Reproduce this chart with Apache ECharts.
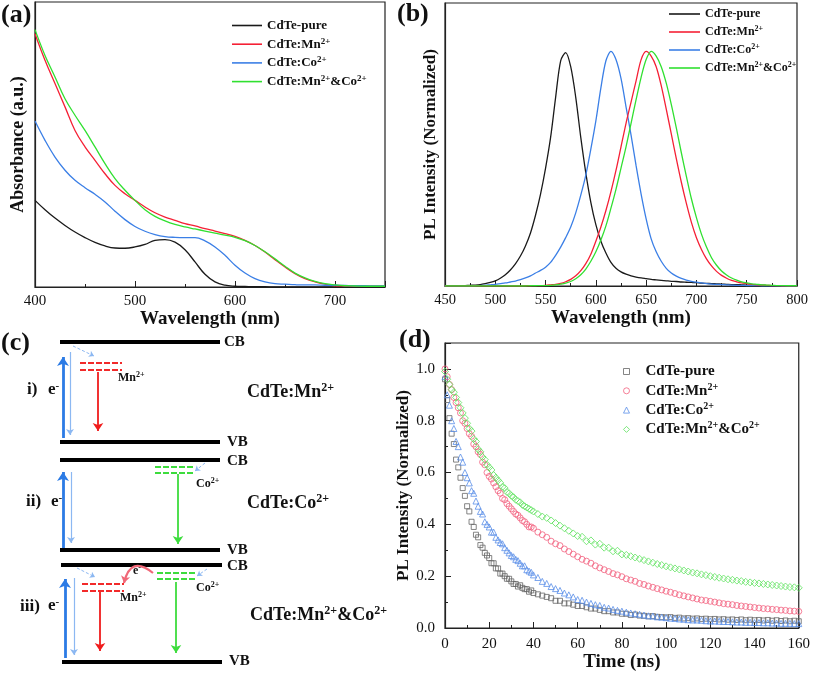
<!DOCTYPE html>
<html><head><meta charset="utf-8">
<script src="https://cdn.jsdelivr.net/npm/echarts@6/dist/echarts.min.js"></script>
<style>html,body{margin:0;padding:0;background:#fff}#c{width:813px;height:675px}</style>
</head><body><div id="c"></div>
<script>
// ---------- Panel (a): absorbance ----------
const absWl = [400,410,420,430,440,450,460,470,480,490,500,510,520,530,540,550,560,570,580,590,600,610,620,630,640,650,660,670,680,690,700,710,720,730,740,750];
const absPure = [0.342,0.305,0.272,0.243,0.217,0.195,0.176,0.162,0.154,0.153,0.158,0.168,0.184,0.187,0.177,0.147,0.099,0.050,0.020,0.007,0.003,0.002,0.001,0.001,0,0,0,0,0,0,0,0,0,0,0,0];
const absMn = [1.0,0.895,0.803,0.711,0.618,0.553,0.5,0.447,0.401,0.368,0.342,0.316,0.293,0.276,0.263,0.25,0.241,0.23,0.221,0.211,0.2,0.184,0.164,0.138,0.108,0.079,0.053,0.033,0.02,0.011,0.005,0.004,0.003,0.003,0.003,0.003];
const absCo = [0.655,0.579,0.513,0.461,0.421,0.392,0.366,0.336,0.299,0.266,0.239,0.22,0.207,0.199,0.196,0.195,0.195,0.182,0.158,0.125,0.086,0.055,0.033,0.02,0.013,0.011,0.009,0.008,0.008,0.007,0.007,0.006,0.005,0.005,0.004,0.004];
const absMnCo = [1.016,0.914,0.829,0.743,0.678,0.618,0.553,0.487,0.428,0.382,0.342,0.305,0.279,0.261,0.247,0.237,0.229,0.221,0.213,0.205,0.196,0.183,0.164,0.139,0.111,0.082,0.055,0.036,0.022,0.013,0.008,0.005,0.004,0.003,0.003,0.003];
const absTicks = [400,500,600,700];

// ---------- Panel (b): PL spectra ----------
const plWl = [450,455,460,465,470,475,480,485,490,495,500,505,510,515,520,525,530,535,540,545,550,555,560,565,570,575,580,585,590,595,600,605,610,615,620,625,630,635,640,645,650,655,660,665,670,675,680,685,690,695,700,705,710,715,720,725,730,735,740,745,750,755,760,765,770,775,780,785,790,795,800];
const plPure = [0,0,0,0.001,0.002,0.003,0.004,0.006,0.01,0.015,0.022,0.033,0.048,0.068,0.094,0.127,0.17,0.225,0.30,0.39,0.50,0.63,0.80,0.955,0.99,0.93,0.80,0.63,0.48,0.355,0.26,0.19,0.14,0.10,0.075,0.06,0.05,0.043,0.038,0.034,0.031,0.028,0.026,0.024,0.022,0.02,0.019,0.017,0.016,0.015,0.014,0.012,0.011,0.01,0.009,0.008,0.007,0.006,0.006,0.005,0.004,0.004,0.003,0.003,0.002,0.002,0.002,0.001,0.001,0.001,0.001];
const plCo = [0,0,0,0,0,0,0.001,0.002,0.003,0.005,0.007,0.01,0.013,0.017,0.021,0.027,0.034,0.043,0.055,0.066,0.08,0.10,0.13,0.165,0.205,0.25,0.31,0.385,0.47,0.58,0.70,0.84,0.955,0.995,0.96,0.88,0.76,0.64,0.51,0.39,0.285,0.20,0.145,0.105,0.075,0.055,0.042,0.032,0.025,0.02,0.016,0.013,0.01,0.008,0.007,0.006,0.005,0.004,0.003,0.003,0.002,0.002,0.002,0.001,0.001,0.001,0.001,0,0,0,0];
const plMn = [0,0,0,0,0,0,0,0,0,0,0,0,0,0,0,0,0.001,0.001,0.002,0.002,0.003,0.005,0.007,0.011,0.018,0.028,0.043,0.065,0.095,0.135,0.19,0.25,0.32,0.40,0.49,0.59,0.69,0.78,0.87,0.96,0.995,0.975,0.93,0.85,0.75,0.645,0.54,0.44,0.35,0.27,0.205,0.155,0.115,0.085,0.062,0.045,0.033,0.024,0.018,0.013,0.01,0.007,0.005,0.004,0.003,0.002,0.002,0.001,0.001,0.001,0.001];
const plMnCo = [0,0,0,0,0,0,0,0,0,0,0,0,0,0,0,0,0,0.001,0.001,0.002,0.002,0.003,0.005,0.008,0.012,0.019,0.031,0.048,0.072,0.105,0.145,0.195,0.255,0.33,0.41,0.50,0.59,0.69,0.79,0.885,0.96,0.995,0.975,0.93,0.86,0.77,0.67,0.565,0.465,0.37,0.29,0.22,0.165,0.12,0.088,0.064,0.047,0.034,0.025,0.018,0.013,0.009,0.007,0.005,0.004,0.003,0.002,0.002,0.001,0.001,0.001];

// ---------- Panel (d): PL decay ----------
const decayT = [0,1,2,3,4,5,6,7,8,9,10,11,12,13,14,15,16,17,18,19,20,21,22,23,24,25,26,27,28,29,30,31,32,33,34,35,36,37,38,39,40,42,44,46,48,50,52,54,56,58,60,62,64,66,68,70,72,74,76,78,80,82,84,86,88,90,92,94,96,98,100,102,104,106,108,110,112,114,116,118,120,122,124,126,128,130,132,134,136,138,140,142,144,146,148,150,152,154,156,158,160];
const decayPure = [0.96,0.88,0.81,0.75,0.71,0.65,0.62,0.58,0.54,0.51,0.47,0.45,0.41,0.39,0.36,0.35,0.32,0.31,0.29,0.28,0.27,0.25,0.25,0.23,0.23,0.21,0.21,0.20,0.19,0.19,0.18,0.17,0.17,0.16,0.165,0.155,0.15,0.15,0.14,0.145,0.135,0.13,0.125,0.12,0.115,0.105,0.105,0.095,0.095,0.09,0.085,0.085,0.08,0.075,0.075,0.07,0.065,0.065,0.06,0.06,0.055,0.055,0.05,0.052,0.048,0.047,0.045,0.046,0.043,0.042,0.041,0.042,0.039,0.04,0.037,0.038,0.036,0.037,0.035,0.036,0.034,0.035,0.033,0.034,0.032,0.033,0.031,0.033,0.030,0.032,0.030,0.031,0.029,0.031,0.028,0.030,0.027,0.029,0.026,0.028,0.026];
const decayMn = [1.0,0.97,0.94,0.92,0.89,0.87,0.85,0.83,0.80,0.79,0.77,0.75,0.74,0.71,0.70,0.68,0.67,0.64,0.63,0.60,0.585,0.575,0.56,0.545,0.53,0.52,0.50,0.495,0.48,0.47,0.46,0.45,0.44,0.435,0.425,0.415,0.41,0.40,0.39,0.39,0.385,0.37,0.36,0.35,0.335,0.325,0.318,0.305,0.295,0.285,0.275,0.265,0.258,0.25,0.24,0.232,0.225,0.218,0.21,0.205,0.198,0.19,0.185,0.18,0.172,0.168,0.162,0.157,0.152,0.147,0.142,0.138,0.133,0.128,0.124,0.12,0.116,0.112,0.108,0.106,0.103,0.10,0.097,0.094,0.092,0.09,0.087,0.085,0.083,0.081,0.079,0.077,0.075,0.074,0.072,0.071,0.069,0.068,0.066,0.065,0.064];
const decayCo = [0.97,0.90,0.86,0.80,0.77,0.72,0.70,0.66,0.64,0.60,0.58,0.56,0.53,0.52,0.49,0.47,0.45,0.44,0.41,0.40,0.39,0.37,0.37,0.35,0.34,0.33,0.325,0.31,0.30,0.29,0.28,0.275,0.265,0.26,0.25,0.24,0.24,0.225,0.22,0.215,0.205,0.195,0.18,0.172,0.16,0.152,0.145,0.135,0.128,0.12,0.11,0.107,0.10,0.095,0.09,0.087,0.08,0.077,0.072,0.068,0.065,0.061,0.058,0.055,0.053,0.05,0.047,0.046,0.043,0.042,0.04,0.038,0.037,0.035,0.034,0.032,0.031,0.031,0.03,0.028,0.027,0.027,0.026,0.025,0.025,0.024,0.023,0.023,0.022,0.022,0.021,0.021,0.02,0.02,0.019,0.019,0.018,0.018,0.018,0.017,0.017];
const decayMnCo = [0.99,0.96,0.94,0.92,0.91,0.89,0.87,0.85,0.83,0.81,0.79,0.77,0.76,0.73,0.72,0.69,0.68,0.66,0.65,0.63,0.62,0.61,0.59,0.58,0.57,0.56,0.545,0.54,0.525,0.52,0.51,0.505,0.495,0.49,0.485,0.475,0.47,0.465,0.46,0.455,0.45,0.44,0.43,0.425,0.415,0.405,0.395,0.385,0.375,0.365,0.355,0.352,0.335,0.338,0.322,0.325,0.31,0.31,0.296,0.298,0.284,0.282,0.277,0.272,0.267,0.262,0.257,0.252,0.247,0.243,0.238,0.234,0.23,0.226,0.222,0.218,0.214,0.211,0.207,0.204,0.20,0.197,0.194,0.191,0.188,0.186,0.183,0.181,0.178,0.176,0.174,0.172,0.17,0.168,0.166,0.164,0.162,0.16,0.158,0.157,0.155];

// ---------- Panel (c): energy-level schematic (diagram geometry) ----------
const levelLines = [[[60,342],[220,342]],[[60,442],[220,442]],[[60,460],[220,460]],[[60,550],[220,550]],[[61,565],[222,565]],[[62,662],[222,662]]];
const blueUp = [[[63,438],[63,357]],[[63,548],[63,472]],[[65,658],[65,579]]];
const blueDown = [[[70,352],[70,435]],[[71,472],[71,543]],[[74,578],[74,655]]];
const redDown = [[[98,372],[98,431]],[[100,592],[100,651]]];
const greenDown = [[[178,474],[178,544]],[[176,582],[176,653]]];
const dashArrows = [[[73,346],[94,356]],[[205,463],[195,471]],[[77,568],[95,577]],[[207,569],[197,576]]];
const redDash = [[[80,363],[122,363]],[[80,370],[122,370]],[[82,584],[124,584]],[[82,591],[124,591]]];
const greenDash = [[[155,467],[195,467]],[[155,473],[195,473]],[[157,573],[197,573]],[[157,579],[197,579]]];
const curveArrow = [[[153,573],[124,583]]];

const FONT = '"Liberation Serif","Times New Roman",serif';
const C = {pure:'#1a1a1a', mn:'#f52035', co:'#3b7fe6', mnco:'#30e030'};
const CD = {pure:'#666666', mn:'#f2607e', co:'#5a8ee8', mnco:'#5de25d'};
const labelRich = {
  pure:'{b|CdTe-pure}', mn:'{b|CdTe:Mn}{s|2+}', co:'{b|CdTe:Co}{s|2+}', mnco:'{b|CdTe:Mn}{s|2+}{b|&Co}{s|2+}',
  dpure:'{b|CdTe-pure}', dmn:'{b|CdTe:Mn}{s|2+}', dco:'{b|CdTe:Co}{s|2+}', dmnco:'{b|CdTe:Mn}{s|2+}{b|&Co}{s|2+}'
};
function rich(size,pad){
  return {
    b:{fontFamily:FONT,fontWeight:'bold',fontSize:size,lineHeight:size+2,color:'#111'},
    s:{fontFamily:FONT,fontWeight:'bold',fontSize:Math.round(size*0.66),lineHeight:Math.round(size*0.6),verticalAlign:'top',color:'#111'},
    p:{width:pad||0}
  };
}
function richG(size){
  return {
    b:{fontFamily:FONT,fontWeight:'bold',fontSize:size,lineHeight:size+2,fill:'#111'},
    s:{fontFamily:FONT,fontWeight:'bold',fontSize:Math.round(size*0.64),lineHeight:Math.round(size*0.6),verticalAlign:'top',fill:'#111'}
  };
}
function gtext(x,y,str,size){
  return {type:'text',x:x,y:y,silent:true,z:100,style:{text:str,fill:'#111',font:'bold '+size+'px '+FONT,fontFamily:FONT,fontWeight:'bold',fontSize:size,align:'left',verticalAlign:'middle',textAlign:'left',textVerticalAlign:'middle',rich:richG(size)}};
}
function pairs(xs,ys){return xs.map((x,i)=>[x,ys[i]]);}

const axisLineStyle = {show:true,lineStyle:{color:'#222',width:1.2}};
const tickLabel = (size,margin,fmt)=>({fontFamily:FONT,fontSize:size,color:'#111',margin:margin,formatter:fmt});
const nameStyle = (size)=>({fontFamily:FONT,fontWeight:'bold',fontSize:size,color:'#111'});

function lineSeries(name,xi,xs,ys,color,smooth){
  return {name:name,type:'line',xAxisIndex:xi,yAxisIndex:xi,data:pairs(xs,ys),symbol:'none',showSymbol:false,smooth:smooth,lineStyle:{color:color,width:1.3},itemStyle:{color:color},z:3};
}
function scatterSeries(name,ys,color,symbol,size){
  return {name:name,type:'scatter',xAxisIndex:2,yAxisIndex:2,data:pairs(decayT,ys),symbol:symbol,symbolSize:size,itemStyle:{color:'rgba(0,0,0,0)',borderColor:color,borderWidth:1}};
}
function linesSeries(coordsList,color,width,opts){
  opts = opts||{};
  return {type:'lines',coordinateSystem:'cartesian2d',xAxisIndex:3,yAxisIndex:3,polyline:false,silent:true,
    symbol:opts.arrow?['none','arrow']:'none',symbolSize:opts.size||8,
    lineStyle:{color:color,width:width,opacity:1,type:opts.type||'solid',curveness:opts.curveness||0},
    data:coordsList.map(c=>({coords:c})),z:5};
}
function lineLegendData(){
  return ['pure','mn','co','mnco'].map(n=>({name:n,icon:'rect',itemStyle:{color:C[n]}}));
}

const chart = echarts.init(document.getElementById('c'),null,{renderer:'canvas'});
chart.setOption({
  animation:false,
  backgroundColor:'#fff',
  grid:[
    {left:35,top:2,width:350,height:285,show:true,borderColor:'#222',borderWidth:1.2,backgroundColor:'transparent'},
    {left:445,top:3,width:352,height:283,show:true,borderColor:'#222',borderWidth:1.2,backgroundColor:'transparent'},
    {left:445,top:343,width:354,height:285,show:true,borderColor:'#222',borderWidth:1.2,backgroundColor:'transparent'},
    {left:0,top:320,width:300,height:355,show:false}
  ],
  xAxis:[
    {gridIndex:0,type:'value',min:400,max:750,interval:100,axisLine:axisLineStyle,
      axisTick:{inside:true,length:6,lineStyle:{color:'#222'}},minorTick:{show:true,splitNumber:2,length:3,lineStyle:{color:'#222'}},
      splitLine:{show:false},axisLabel:tickLabel(15,7,v=>absTicks.indexOf(v)>=0?String(v):''),
      name:'Wavelength (nm)',nameLocation:'middle',nameGap:19,nameTextStyle:nameStyle(19)},
    {gridIndex:1,type:'value',min:450,max:800,interval:50,axisLine:axisLineStyle,
      axisTick:{inside:true,length:6,lineStyle:{color:'#222'}},minorTick:{show:true,splitNumber:2,length:3,lineStyle:{color:'#222'}},
      splitLine:{show:false},axisLabel:tickLabel(14.5,7),
      name:'Wavelength (nm)',nameLocation:'middle',nameGap:19,nameTextStyle:nameStyle(19)},
    {gridIndex:2,type:'value',min:0,max:160,interval:20,axisLine:axisLineStyle,
      axisTick:{inside:true,length:6,lineStyle:{color:'#222'}},minorTick:{show:true,splitNumber:2,length:3,lineStyle:{color:'#222'}},
      splitLine:{show:false},axisLabel:tickLabel(15,9),
      name:'Time (ns)',nameLocation:'middle',nameGap:24,nameTextStyle:nameStyle(19)},
    {gridIndex:3,type:'value',min:0,max:300,show:false}
  ],
  yAxis:[
    {gridIndex:0,type:'value',min:0,max:1.125,axisLine:axisLineStyle,axisTick:{show:false},axisLabel:{show:false},splitLine:{show:false},
      name:'Absorbance (a.u.)',nameLocation:'middle',nameRotate:90,nameGap:8,nameTextStyle:nameStyle(18)},
    {gridIndex:1,type:'value',min:0,max:1.2,axisLine:axisLineStyle,axisTick:{show:false},axisLabel:{show:false},splitLine:{show:false},
      name:'PL Intensity (Normalized)',nameLocation:'middle',nameRotate:90,nameGap:6,nameTextStyle:nameStyle(17)},
    {gridIndex:2,type:'value',min:0,max:1.1,interval:0.2,axisLine:axisLineStyle,
      axisTick:{inside:true,length:6,lineStyle:{color:'#222'}},minorTick:{show:true,splitNumber:2,length:3,lineStyle:{color:'#222'}},
      splitLine:{show:false},axisLabel:tickLabel(15,10,v=>v>1.05?'':v.toFixed(1)),
      name:'PL Intensity (Normalized)',nameLocation:'middle',nameRotate:90,nameGap:31,nameTextStyle:nameStyle(17)},
    {gridIndex:3,type:'value',min:320,max:675,inverse:true,show:false}
  ],
  legend:[
    {left:227,top:14,padding:5,orient:'vertical',itemWidth:30,itemHeight:1.6,itemGap:4.7,selectedMode:false,
      data:lineLegendData(),formatter:n=>labelRich[n],textStyle:{fontFamily:FONT,fontWeight:'bold',fontSize:13,rich:rich(13)}},
    {left:664,top:3,padding:5,orient:'vertical',itemWidth:31,itemHeight:1.6,itemGap:5,selectedMode:false,
      data:lineLegendData(),formatter:n=>labelRich[n],textStyle:{fontFamily:FONT,fontWeight:'bold',fontSize:12,rich:rich(12)}},
    {left:618,top:359,padding:5,orient:'vertical',itemWidth:6,itemHeight:6,itemGap:3.3,selectedMode:false,
      data:[
        {name:'dpure',icon:'rect',itemStyle:{color:'rgba(0,0,0,0)',borderColor:CD.pure,borderWidth:1}},
        {name:'dmn',icon:'circle',itemStyle:{color:'rgba(0,0,0,0)',borderColor:CD.mn,borderWidth:1}},
        {name:'dco',icon:'triangle',itemStyle:{color:'rgba(0,0,0,0)',borderColor:CD.co,borderWidth:1}},
        {name:'dmnco',icon:'diamond',itemStyle:{color:'rgba(0,0,0,0)',borderColor:CD.mnco,borderWidth:1}}
      ],formatter:n=>'{p|}'+labelRich[n],textStyle:{fontFamily:FONT,fontWeight:'bold',fontSize:15,rich:rich(15,11)}}
  ],
  series:[
    lineSeries('pure',0,absWl,absPure,C.pure,0.4),
    lineSeries('mn',0,absWl,absMn,C.mn,0.4),
    lineSeries('co',0,absWl,absCo,C.co,0.4),
    lineSeries('mnco',0,absWl,absMnCo,C.mnco,0.4),
    lineSeries('pure',1,plWl,plPure,C.pure,0.3),
    lineSeries('co',1,plWl,plCo,C.co,0.3),
    lineSeries('mn',1,plWl,plMn,C.mn,0.3),
    lineSeries('mnco',1,plWl,plMnCo,C.mnco,0.3),
    scatterSeries('dpure',decayPure,CD.pure,'rect',5),
    scatterSeries('dco',decayCo,CD.co,'triangle',6),
    scatterSeries('dmn',decayMn,CD.mn,'circle',6),
    scatterSeries('dmnco',decayMnCo,CD.mnco,'diamond',7),
    linesSeries(levelLines,'#000',4),
    linesSeries(blueUp,'#2c7be5',2.8,{arrow:true,size:9}),
    linesSeries(blueDown,'#8cb8f2',1.2,{arrow:true,size:6}),
    linesSeries(redDown,'#f01c1c',1.8,{arrow:true,size:8}),
    linesSeries(greenDown,'#3ddc3d',1.8,{arrow:true,size:8}),
    linesSeries(dashArrows,'#8cb8f2',1,{arrow:true,size:5,type:[3,2]}),
    linesSeries(redDash,'#f22a2a',2,{type:[6,2]}),
    linesSeries(greenDash,'#3ddc3d',2,{type:[6,2]}),
    linesSeries(curveArrow,'#f06878',2.2,{arrow:true,size:7,curveness:-0.8})
  ],
  graphic:[
    gtext(1,15,'(a)',26), gtext(397,14,'(b)',26), gtext(1,343,'(c)',26), gtext(399,340,'(d)',26),
    gtext(224,342,'CB',15), gtext(227,442,'VB',15), gtext(227,461,'CB',15), gtext(227,550,'VB',15),
    gtext(227,566,'CB',15), gtext(229,661,'VB',15),
    gtext(118,378,'{b|Mn}{s|2+}',12), gtext(196,484,'{b|Co}{s|2+}',12),
    gtext(120,598,'{b|Mn}{s|2+}',12), gtext(196,588,'{b|Co}{s|2+}',12),
    gtext(133,571,'{b|e}{s|-}',12),
    gtext(27,390,'i)',17), gtext(48,390,'{b|e}{s|-}',17),
    gtext(26,502,'ii)',17), gtext(51,502,'{b|e}{s|-}',17),
    gtext(20,607,'iii)',17), gtext(48,606,'{b|e}{s|-}',17),
    gtext(247,392,'{b|CdTe:Mn}{s|2+}',18),
    gtext(247,503,'{b|CdTe:Co}{s|2+}',18),
    gtext(250,615,'{b|CdTe:Mn}{s|2+}{b|&Co}{s|2+}',18)
  ]
});
</script></body></html>
